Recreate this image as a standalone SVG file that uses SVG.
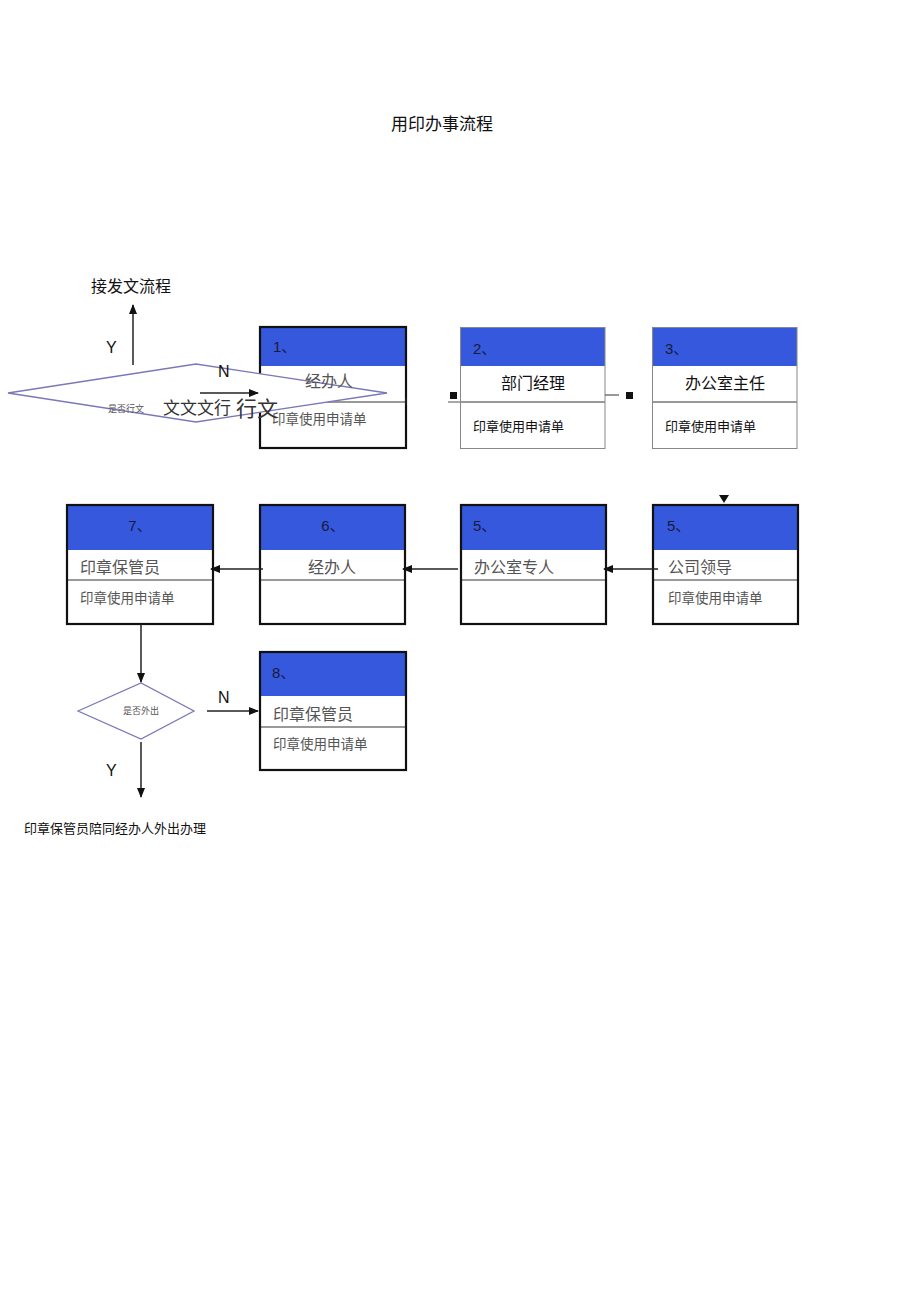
<svg xmlns="http://www.w3.org/2000/svg" width="920" height="1303" viewBox="0 0 920 1303">
<style>
text{font-family:"Liberation Sans","Noto Sans CJK SC",sans-serif;}
.hdr{fill:#3558dc;}
.thick{fill:none;stroke:#111;stroke-width:2.2;}
.thin{fill:none;stroke:#888;stroke-width:1;}
.div{stroke:#777;stroke-width:1.3;}
.num{font-size:15px;fill:#1a1a3a;}
.role{font-size:16px;fill:#555;}
.roleb{font-size:16px;fill:#111;}
.form{font-size:13.5px;fill:#555;}
.formb{font-size:13px;fill:#111;}
.lbl{font-size:16px;fill:#111;}
.dia{fill:#fff;stroke:#7a78b8;stroke-width:1.3;}
.ln{stroke:#222;stroke-width:1.5;fill:none;}
</style>
<defs>
<marker id="ah" markerWidth="10" markerHeight="8" refX="9" refY="4" orient="auto" markerUnits="userSpaceOnUse">
<path d="M0,0 L10,4 L0,8 Z" fill="#111"/>
</marker>
</defs>
<rect width="920" height="1303" fill="#fff"/>
<text x="442" y="130" font-size="17" text-anchor="middle" fill="#111">用印办事流程</text>
<text x="91" y="292" font-size="16" fill="#111">接发文流程</text>
<text x="106" y="353" class="lbl">Y</text>

<g id="box1">
<rect x="260" y="327" width="146" height="39" class="hdr"/>
<line x1="325" y1="402" x2="406" y2="402" class="div"/>
<rect x="260" y="327" width="146" height="121" class="thick"/>
<text x="273" y="352" class="num">1、</text>
<text x="272" y="424" class="form">印章使用申请单</text>
</g>

<g id="decision1">
<polygon points="8,393 196,364 387,393 196,422" class="dia"/>
<text x="108" y="412" font-size="9" fill="#555">是否行文</text>
<text x="163" y="414" font-size="17" fill="#333" font-family="'Noto Sans CJK SC',serif">文文文行</text>
<text x="236" y="416" font-size="21" fill="#333" font-family="'Noto Sans CJK SC',serif">行文</text>
<text x="305" y="387" class="role">经办人</text>
</g>

<g id="box2">
<rect x="460" y="327" width="145" height="39" class="hdr"/>
<line x1="460" y1="402" x2="605" y2="402" class="div"/>
<rect x="460.5" y="327.5" width="144.5" height="121" class="thin"/>
<text x="473" y="354" class="num">2、</text>
<text x="533" y="389" class="roleb" text-anchor="middle">部门经理</text>
<text x="473" y="431" class="formb">印章使用申请单</text>
</g>

<g id="box3">
<rect x="652" y="327" width="145" height="39" class="hdr"/>
<line x1="652" y1="402" x2="797" y2="402" class="div"/>
<rect x="652.5" y="327.5" width="144.5" height="121" class="thin"/>
<text x="665" y="354" class="num">3、</text>
<text x="725" y="389" class="roleb" text-anchor="middle">办公室主任</text>
<text x="665" y="431" class="formb">印章使用申请单</text>
</g>

<g id="box7">
<rect x="67" y="505" width="146" height="45" class="hdr"/>
<line x1="67" y1="580" x2="213" y2="580" class="div"/>
<rect x="67" y="505" width="146" height="119" class="thick"/>
<text x="140" y="531" class="num" text-anchor="middle">7、</text>
<text x="80" y="573" class="role">印章保管员</text>
<text x="80" y="603" class="form">印章使用申请单</text>
</g>

<g id="box6">
<rect x="260" y="505" width="145" height="45" class="hdr"/>
<line x1="260" y1="580" x2="405" y2="580" class="div"/>
<rect x="260" y="505" width="145" height="119" class="thick"/>
<text x="333" y="531" class="num" text-anchor="middle">6、</text>
<text x="332" y="573" class="role" text-anchor="middle">经办人</text>
</g>

<g id="box5a">
<rect x="461" y="505" width="145" height="45" class="hdr"/>
<line x1="461" y1="580" x2="606" y2="580" class="div"/>
<rect x="461" y="505" width="145" height="119" class="thick"/>
<text x="473" y="531" class="num">5、</text>
<text x="474" y="573" class="role">办公室专人</text>
</g>

<g id="box5b">
<rect x="653" y="505" width="145" height="45" class="hdr"/>
<line x1="653" y1="580" x2="798" y2="580" class="div"/>
<rect x="653" y="505" width="145" height="119" class="thick"/>
<text x="667" y="531" class="num">5、</text>
<text x="668" y="573" class="role">公司领导</text>
<text x="668" y="603" class="form">印章使用申请单</text>
</g>

<g id="decision2">
<polygon points="78,711 141,683 194,711 141,739" class="dia"/>
<text x="141" y="714" font-size="9" fill="#555" text-anchor="middle">是否外出</text>
</g>

<g id="box8">
<rect x="260" y="652" width="146" height="44" class="hdr"/>
<line x1="260" y1="727" x2="406" y2="727" class="div"/>
<rect x="260" y="652" width="146" height="118" class="thick"/>
<text x="272" y="678" class="num">8、</text>
<text x="273" y="720" class="role">印章保管员</text>
<text x="273" y="749" class="form">印章使用申请单</text>
</g>

<text x="24" y="833" font-size="13" fill="#111">印章保管员陪同经办人外出办理</text>

<g id="connectors">
<line x1="133" y1="365" x2="133" y2="305" class="ln" marker-end="url(#ah)"/>
<text x="218" y="377" class="lbl">N</text>
<line x1="200" y1="393" x2="258" y2="393" class="ln" marker-end="url(#ah)"/>
<line x1="406" y1="398" x2="406" y2="405" stroke="#222" stroke-width="1.5"/>
<line x1="448" y1="402" x2="460" y2="402" class="div"/>
<rect x="450" y="392" width="7" height="7" fill="#111"/>
<line x1="605" y1="395" x2="619" y2="395" stroke="#333" stroke-width="1"/>
<rect x="626" y="392" width="7" height="7" fill="#111"/>
<path d="M719,495 L729,495 L724,503 Z" fill="#111"/>
<line x1="658" y1="569" x2="604" y2="569" class="ln" marker-end="url(#ah)"/>
<line x1="430" y1="569" x2="458" y2="569" stroke="#222" stroke-width="1.5"/>
<line x1="430" y1="569" x2="403" y2="569" class="ln" marker-end="url(#ah)"/>
<line x1="263" y1="569" x2="211" y2="569" class="ln" marker-end="url(#ah)"/>
<line x1="141" y1="624" x2="141" y2="682" class="ln" marker-end="url(#ah)"/>
<line x1="207" y1="711" x2="258" y2="711" class="ln" marker-end="url(#ah)"/>
<text x="218" y="703" class="lbl">N</text>
<line x1="141" y1="742" x2="141" y2="797" class="ln" marker-end="url(#ah)"/>
<text x="106" y="776" class="lbl">Y</text>
</g>
</svg>
